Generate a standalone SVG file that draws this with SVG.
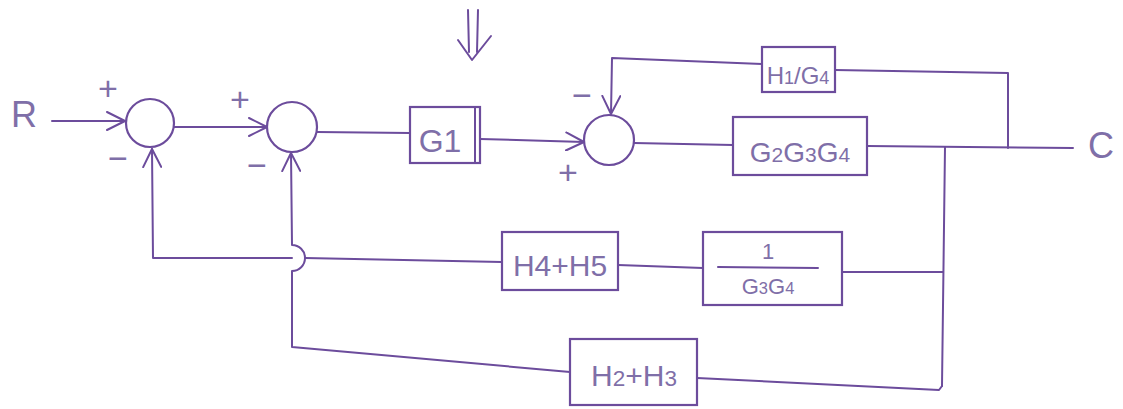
<svg xmlns="http://www.w3.org/2000/svg" width="1123" height="409" viewBox="0 0 1123 409">
  <defs>
    <marker id="chev" viewBox="0 0 20 20" refX="19" refY="10" markerWidth="20" markerHeight="20" markerUnits="userSpaceOnUse" orient="auto">
      <path d="M1,1 L19,10 L1,19" fill="none" stroke="#6c4c9c" stroke-width="2" stroke-linecap="round" stroke-linejoin="round"/>
    </marker>
  </defs>
  <style>
    .ln { fill: none; stroke: #6c4c9c; stroke-width: 2; stroke-linecap: round; stroke-linejoin: round; }
    .box { fill: none; stroke: #6c4c9c; stroke-width: 2.2; }
    .sum { fill: #ffffff; stroke: #6c4c9c; stroke-width: 2.2; }
    .lbl { font-family: "Liberation Sans", Arial, sans-serif; fill: #7f6fa8; text-anchor: middle; }
    .sign { font-family: "Liberation Sans", Arial, sans-serif; fill: #7f6fa8; font-size: 34px; text-anchor: middle; }
    .sub { font-size: 0.75em; }
  </style>
  <rect width="1123" height="409" fill="#ffffff"/>

  <!-- signal lines -->
  <g id="connectors">
    <!-- forward path -->
    <path class="ln" d="M52,121 L125,121" marker-end="url(#chev)"/>
    <path class="ln" d="M174,127 L267,127" marker-end="url(#chev)"/>
    <path class="ln" d="M317,132 L410,133"/>
    <path class="ln" d="M480,139 L584,142" marker-end="url(#chev)"/>
    <path class="ln" d="M634,143 L733,145"/>
    <path class="ln" d="M867,146 L1073,148"/>
    <!-- inner feedback through H1/G4 -->
    <path class="ln" d="M1008,148 L1008,73 L835,70"/>
    <path class="ln" d="M762,64 L612,58 L611,114" marker-end="url(#chev)"/>
    <!-- output take-off -->
    <path class="ln" d="M945,147 L942,386"/>
    <!-- feedback through 1/(G3G4) and H4+H5 -->
    <path class="ln" d="M943,272 L842,272"/>
    <path class="ln" d="M703,268 L618,265"/>
    <path class="ln" d="M502,262 L305,258 M292,258 L153,258 L152,149" marker-end="url(#chev)"/>
    <!-- feedback through H2+H3, hopping over the line above -->
    <path class="ln" d="M942,386 L939,390 L697,378"/>
    <path class="ln" d="M570,372 L292,347 L292,271 A13,13 0 0 0 292,245 L291,153" marker-end="url(#chev)"/>
  </g>

  <!-- disturbance mark -->
  <g id="disturbance">
    <path class="ln" d="M468,10 L469,52 M478,10 L477,52"/>
    <path class="ln" d="M458,40 L472,60 L491,36"/>
  </g>

  <g id="input">
    <text class="lbl" x="24" y="127" font-size="36">R</text>
  </g>

  <g id="sum1">
    <circle class="sum" cx="150" cy="123" r="24"/>
    <text class="sign" x="108" y="100">+</text>
    <text class="sign" x="118" y="170">−</text>
  </g>

  <g id="sum2">
    <circle class="sum" cx="292" cy="127" r="25"/>
    <text class="sign" x="240" y="111">+</text>
    <text class="sign" x="257" y="177">−</text>
  </g>

  <g id="g1">
    <rect class="box" x="410" y="107" width="70" height="56"/>
    <path class="ln" d="M475,108 L475,162"/>
    <text class="lbl" x="440" y="152" font-size="32">G1</text>
  </g>

  <g id="sum3">
    <circle class="sum" cx="609" cy="140" r="25"/>
    <text class="sign" x="582" y="107">−</text>
    <text class="sign" x="568" y="184">+</text>
  </g>

  <g id="h1g4">
    <rect class="box" x="762" y="47" width="73" height="45"/>
    <text class="lbl" x="798" y="84" font-size="24">H<tspan class="sub">1</tspan>/G<tspan class="sub">4</tspan></text>
  </g>

  <g id="g2g3g4">
    <rect class="box" x="733" y="117" width="134" height="58"/>
    <text class="lbl" x="800" y="162" font-size="28">G<tspan class="sub">2</tspan>G<tspan class="sub">3</tspan>G<tspan class="sub">4</tspan></text>
  </g>

  <g id="output">
    <text class="lbl" x="1101" y="158" font-size="36">C</text>
  </g>

  <g id="h4h5">
    <rect class="box" x="502" y="232" width="116" height="58"/>
    <text class="lbl" x="560" y="276" font-size="30">H4+H5</text>
  </g>

  <g id="inv-g3g4">
    <rect class="box" x="703" y="232" width="139" height="73"/>
    <text class="lbl" x="768" y="259" font-size="22">1</text>
    <path class="ln" d="M718,267 L818,268"/>
    <text class="lbl" x="768" y="294" font-size="22">G<tspan class="sub">3</tspan>G<tspan class="sub">4</tspan></text>
  </g>

  <g id="h2h3">
    <rect class="box" x="570" y="339" width="127" height="66"/>
    <text class="lbl" x="634" y="386" font-size="30">H<tspan class="sub">2</tspan>+H<tspan class="sub">3</tspan></text>
  </g>
</svg>
